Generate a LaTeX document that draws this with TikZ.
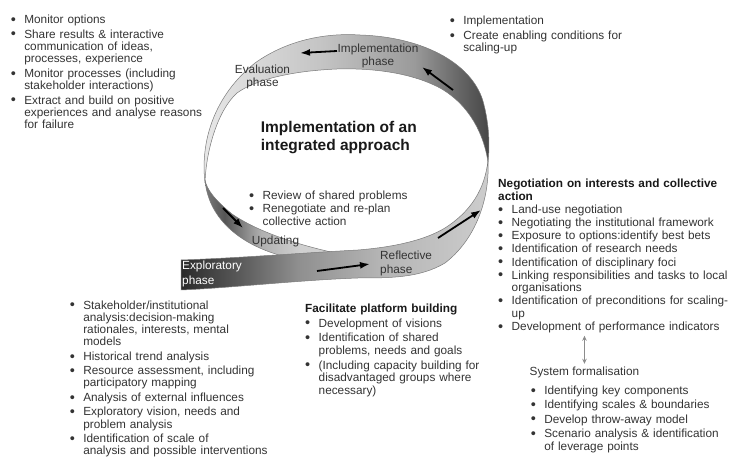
\documentclass[tikz,border=0pt]{standalone}
\usepackage{fontspec}
\setmainfont{Liberation Sans}
\usetikzlibrary{arrows.meta}

\definecolor{ink}{HTML}{333333}
\definecolor{ribline}{HTML}{7A7A7A}
\definecolor{linkgray}{HTML}{8C8C8C}
% greys of the ribbon
\definecolor{tbA}{HTML}{E8E8E8}
\definecolor{tbB}{HTML}{C4C4C4}
\definecolor{tbC}{HTML}{9A9A9A}
\definecolor{tbD}{HTML}{646464}
\definecolor{tbE}{HTML}{454545}
\definecolor{sbA}{HTML}{2A2A2A}
\definecolor{sbB}{HTML}{5A5A5A}
\definecolor{sbC}{HTML}{8F8F8F}
\definecolor{sbD}{HTML}{B4B4B4}
\definecolor{sbE}{HTML}{CDCDCD}
\definecolor{ubA}{HTML}{7A7A7A}
\definecolor{ubB}{HTML}{555555}
\definecolor{ubC}{HTML}{B0B0B0}
\definecolor{ubD}{HTML}{D0D0D0}

\pgfdeclarehorizontalshading{topband}{100bp}{color(0bp)=(tbA); color(25bp)=(tbA); color(46bp)=(tbB); color(62bp)=(tbC); color(70bp)=(tbD); color(75bp)=(tbE); color(100bp)=(tbE)}
\pgfdeclarehorizontalshading{stripband}{100bp}{color(0bp)=(sbA); color(25bp)=(sbA); color(34.5bp)=(sbB); color(44bp)=(sbC); color(57bp)=(sbD); color(75bp)=(sbE); color(100bp)=(sbE)}
\pgfdeclarehorizontalshading{updband}{100bp}{color(0bp)=(ubA); color(25bp)=(ubA); color(32bp)=(ubB); color(45bp)=(ubC); color(59bp)=(ubD); color(100bp)=(ubD)}

\newcommand{\lsp}[2]{\fontsize{11.8}{#1}\selectfont\setlength{\parskip}{#2}\setlength{\parindent}{0pt}\rightskip=0pt plus 1fil\relax}
\newcommand{\bitem}{\par\noindent\hangindent=13.5pt\hangafter=1%
  \hbox to 13.5pt{\raisebox{-0.8pt}{\fontsize{14.5}{14.5}\selectfont\textbullet}\hfil}\ignorespaces}
\newcommand{\nextline}{\hfil\break}
\newcommand{\lstart}{\vskip-\parskip}
\newcommand{\hdr}[1]{{\bfseries\color{black!90}#1}}

\begin{document}
\begin{tikzpicture}[x=1pt, y=-1pt,
    band/.style={draw=ribline, line width=0.5pt},
    ribarrow/.style={line width=1.8pt, -{Latex[length=10pt,width=7pt]}},
    lbl/.style={inner sep=0pt, text=ink, font=\fontsize{11.8}{#1}\selectfont},
    lbl/.default=12.7pt,
    lst/.style={inner sep=0pt, anchor=north west, text=ink, text width=#1},
    link/.style={draw=linkgray, line width=0.8pt,
      {Stealth[length=5pt,width=4.5pt]}-{Stealth[length=5pt,width=4.5pt]},
      shorten <=2.5pt, shorten >=3pt}]

    \useasboundingbox (0,0) rectangle (729,457);

    % the twisted loop
    \shade[shading=topband, band] (205,183) .. controls (200,140) and (215,95) .. (255,63)
        .. controls (290,38) and (330,33) .. (360,35)
        .. controls (425,37) and (475,65) .. (484,105)
        .. controls (489,125) and (490,145) .. (488,162)
        .. controls (484,135) and (470,105) .. (440,88)
        .. controls (410,72) and (370,68) .. (337,69)
        .. controls (290,71) and (255,80) .. (237,93)
        .. controls (218,110) and (206,150) .. (205,183) -- cycle;
    \shade[shading=updband, band] (205,180) .. controls (208,215) and (235,245) .. (290,258)
        -- (345,255) .. controls (300,246) and (258,232) .. (232,214)
        .. controls (215,200) and (207,190) .. (205,180) -- cycle;
    \shade[shading=stripband, band] (488,160) .. controls (490,200) and (475,240) .. (445,263)
        .. controls (420,278) and (390,278) .. (358,278)
        .. controls (300,280) and (230,288) .. (181,290) -- (181,260)
        .. controls (240,258) and (300,253) .. (358,250)
        .. controls (395,247) and (425,240) .. (445,228)
        .. controls (470,212) and (485,190) .. (488,160) -- cycle;

    \draw[ribarrow] (337,51) -- (300,53);
    \draw[ribarrow] (453,90) -- (422,67);
    \draw[ribarrow] (223,208) -- (243,228);
    \draw[ribarrow] (317,271) -- (370,264);
    \draw[ribarrow] (438,238) -- (481,210);

    % phases on the loop
    \node[lbl, align=center] (imp) at (378,56.3) {Implementation\\phase};
    \node[lbl=13.3pt, align=center] (eva) at (262.5,76.7) {Evaluation\\phase};
    \node[lbl] (upd) at (275.5,241.7) {Updating};
    \node[lbl=14pt, align=left, anchor=west] (rfl) at (380,263) {Reflective\\phase};
    \node[lbl=15pt, align=left, anchor=west, text=white] (exl) at (182,274.2) {Exploratory\\phase};

    \node[anchor=north west, inner sep=0pt, align=left, text=black!90,
        font=\fontsize{15.5}{18.4}\selectfont\bfseries] (title) at (260.7,121)
        {Implementation of an\\integrated approach};

    % lists
    \node[lst=205pt, font={\lsp{12.4pt}{2pt}}] (mon) at (10.6,11.2) {\lstart
        \bitem Monitor options
        \bitem Share results \& interactive\nextline communication of ideas,\nextline processes, experience
        \bitem Monitor processes (including\nextline stakeholder interactions)
        \bitem Extract and build on positive\nextline experiences and analyse reasons\nextline for failure\par};
    \node[lst=200pt, font={\lsp{10.6pt}{2.8pt}}] (scl) at (449.6,13.8) {\lstart
        \bitem Implementation
        \bitem Create enabling conditions for\nextline scaling-up\par};
    \node[lst=200pt, font={\lsp{13pt}{0pt}}] (rev) at (248.9,186.6) {\lstart
        \bitem Review of shared problems
        \bitem Renegotiate and re-plan\nextline collective action\par};
    \node[lst=230pt, font={\lsp{12.6pt}{0.5pt}}] (neg) at (498,175.2) {\lstart
        \hdr{Negotiation on interests and collective\nextline action}
        \bitem Land-use negotiation
        \bitem Negotiating the institutional framework
        \bitem Exposure to options:identify best bets
        \bitem Identification of research needs
        \bitem Identification of disciplinary foci
        \bitem Linking responsibilities and tasks to local\nextline organisations
        \bitem Identification of preconditions for scaling-\nextline up
        \bitem Development of performance indicators\par};
    \node[anchor=north west, inner sep=0pt, text=ink, font=\fontsize{11.8}{12.7}\selectfont]
        (sys) at (529.5,366.8) {System formalisation};
    \node[lst=195pt, font={\lsp{12.7pt}{1.5pt}}] (sysl) at (530.6,381.8) {\lstart
        \bitem Identifying key components
        \bitem Identifying scales \& boundaries
        \bitem Develop throw-away model
        \bitem Scenario analysis \& identification\nextline of leverage points\par};
    \node[lst=230pt, font={\lsp{12.2pt}{2.3pt}}] (stk) at (69.6,296.8) {\lstart
        \bitem Stakeholder/institutional\nextline analysis:decision-making\nextline rationales, interests, mental\nextline models
        \bitem Historical trend analysis
        \bitem Resource assessment, including\nextline participatory mapping
        \bitem Analysis of external influences
        \bitem Exploratory vision, needs and\nextline problem analysis
        \bitem Identification of scale of\nextline analysis and possible interventions\par};
    \node[lst=175pt, font={\lsp{12.8pt}{1.8pt}}] (plat) at (305,299.5) {\lstart
        \hdr{Facilitate platform building}
        \bitem Development of visions
        \bitem Identification of shared\nextline problems, needs and goals
        \bitem (Including capacity building for\nextline disadvantaged groups where\nextline necessary)\par};

    \draw[link] (neg.south -| sys.north) -- (sys.north);
\end{tikzpicture}
\end{document}
